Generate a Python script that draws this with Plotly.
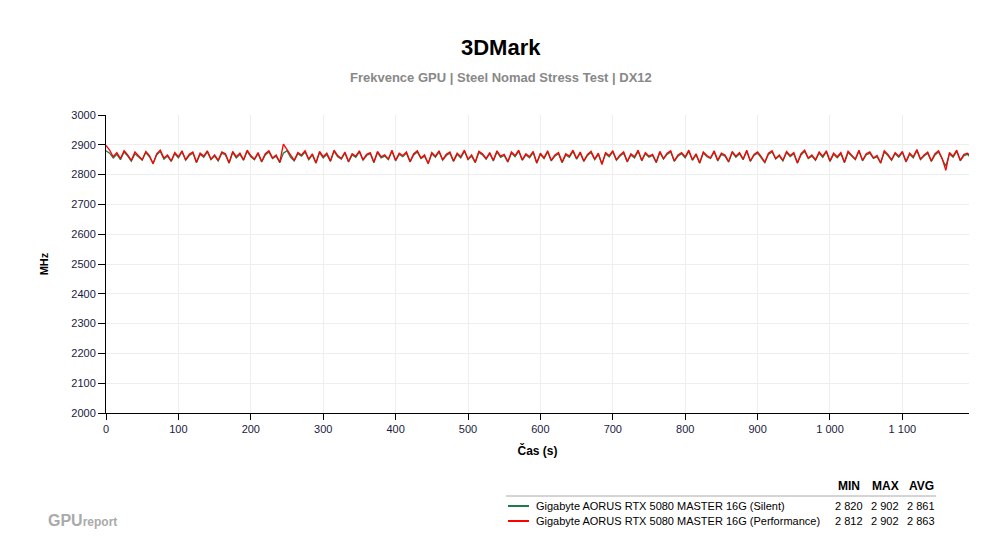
import plotly.graph_objects as go

step = 5
silent = [
2880,2872,2856,2868,2850,2876,2862,2845,2870,2858,2848,2874,2860,2838,2866,2878,2852,2862,2844,2870,
2856,2876,2848,2864,2872,2840,2868,2858,2876,2850,2862,2846,2872,2866,2838,2874,2856,2868,2848,2878,
2860,2850,2870,2842,2866,2876,2854,2862,2840,2872,2880,2858,2846,2870,2862,2876,2850,2866,2838,2874,
2856,2868,2844,2878,2860,2852,2872,2842,2866,2858,2876,2848,2864,2870,2840,2874,2856,2862,2850,2878,
2846,2868,2860,2872,2842,2866,2876,2854,2862,2838,2870,2858,2876,2848,2864,2872,2844,2868,2856,2878,
2850,2862,2840,2874,2866,2852,2870,2846,2876,2858,2864,2842,2872,2860,2878,2848,2866,2856,2874,2838,
2868,2854,2876,2846,2862,2870,2840,2866,2858,2878,2852,2872,2844,2864,2874,2850,2868,2836,2870,2860,
2876,2848,2862,2872,2842,2866,2856,2878,2846,2870,2858,2864,2840,2874,2852,2868,2876,2844,2862,2870,
2856,2878,2848,2866,2838,2872,2860,2854,2876,2846,2868,2862,2842,2874,2858,2870,2850,2878,2844,2864,
2872,2856,2840,2868,2876,2852,2862,2846,2874,2860,2870,2838,2866,2878,2854,2862,2848,2872,2858,2876,
2844,2868,2856,2870,2840,2874,2862,2850,2878,2846,2866,2872,2854,2860,2838,2876,2864,2848,2870,2858,
2874,2842,2868,2856,2880,2850,2862,2872,2844,2866,2876,2852,2828,2870,2858,2878,2846,2864,2868,2856,
]
perf = [
2898,2882,2860,2874,2854,2880,2866,2848,2876,2862,2850,2878,2864,2836,2870,2882,2856,2866,2846,2874,
2860,2880,2850,2868,2876,2842,2872,2862,2880,2852,2866,2848,2876,2870,2840,2878,2860,2872,2850,2882,
2864,2852,2874,2844,2870,2880,2856,2866,2842,2902,2884,2862,2848,2874,2866,2880,2852,2870,2840,2878,
2860,2872,2846,2882,2864,2854,2876,2844,2870,2862,2880,2850,2868,2874,2842,2878,2860,2866,2852,2882,
2848,2872,2864,2876,2844,2870,2880,2856,2866,2836,2874,2862,2880,2850,2868,2876,2846,2872,2860,2882,
2852,2866,2842,2878,2870,2854,2874,2848,2880,2862,2868,2844,2876,2864,2882,2850,2870,2860,2878,2840,
2872,2856,2880,2848,2866,2874,2842,2870,2862,2882,2854,2876,2846,2868,2878,2852,2872,2834,2874,2864,
2880,2850,2866,2876,2844,2870,2860,2882,2848,2874,2862,2868,2842,2878,2854,2872,2880,2846,2866,2874,
2860,2882,2850,2870,2840,2876,2864,2856,2880,2848,2872,2866,2844,2878,2862,2874,2852,2882,2846,2868,
2876,2860,2842,2872,2880,2854,2866,2848,2878,2864,2874,2840,2870,2882,2856,2866,2850,2876,2862,2880,
2846,2872,2860,2874,2842,2878,2866,2852,2882,2848,2870,2876,2856,2864,2840,2880,2868,2850,2874,2862,
2878,2844,2872,2860,2884,2852,2866,2876,2846,2870,2880,2854,2814,2874,2862,2882,2848,2868,2872,2860,
]
t = [i * step for i in range(len(silent))]

x_ticks = [0, 100, 200, 300, 400, 500, 600, 700, 800, 900, 1000, 1100]
x_labels = ["0", "100", "200", "300", "400", "500", "600", "700", "800", "900", "1 000", "1 100"]
names = ["Gigabyte AORUS RTX 5080 MASTER 16G (Silent)", "Gigabyte AORUS RTX 5080 MASTER 16G (Performance)"]
colors = ["#1f7a4a", "#ff0000"]
stats = [["2 820", "2 902", "2 861"], ["2 812", "2 902", "2 863"]]

fig = go.Figure()
fig.add_trace(go.Scatter(x=t, y=silent, mode="lines", line=dict(color=colors[0], width=1.3), showlegend=False))
fig.add_trace(go.Scatter(x=t, y=perf, mode="lines", line=dict(color=colors[1], width=1.3), showlegend=False))

fig.update_layout(
    width=1000, height=550, paper_bgcolor="white", plot_bgcolor="white",
    margin=dict(l=98, r=39, t=107, b=145),
    font=dict(family="Liberation Sans, Arial", color="#000"),
    xaxis=dict(range=[0, 1192], tickvals=x_ticks, ticktext=x_labels, showgrid=True, gridcolor="#eeeeee",
               showline=True, linecolor="#000", ticks="outside", ticklen=6, tickcolor="#000",
               tickfont=dict(size=11, color="#1a1a40"), title=dict(text="<b>Čas (s)</b>", font=dict(size=12), standoff=12), zeroline=False),
    yaxis=dict(range=[2000, 3000], dtick=100, showgrid=True, gridcolor="#eeeeee",
               showline=True, linecolor="#000", ticks="outside", ticklen=7, tickcolor="#000",
               tickfont=dict(size=11, color="#1a1a40"), title=dict(text="<b>MHz</b>", font=dict(size=11), standoff=20), zeroline=False),
)

def py(px):
    return (412 - px) / 298.0
def px_(x):
    return (x - 105) / 863.0

def ann(text, x, y, size, xanchor="center", color="#000"):
    fig.add_annotation(text=text, x=px_(x), y=py(y), xref="paper", yref="paper", showarrow=False,
                       xanchor=xanchor, yanchor="middle", font=dict(size=size, color=color))

ann("<b>3DMark</b>", 500, 47, 22)
ann("<b>Frekvence GPU | Steel Nomad Stress Test | DX12</b>", 500, 76, 13, color="#888888")

for j, h in enumerate(["MIN", "MAX", "AVG"]):
    ann(f"<b>{h}</b>", [848, 884, 920][j], 485, 12)
fig.add_shape(type="line", x0=px_(505), x1=px_(935), y0=py(495), y1=py(495), xref="paper", yref="paper",
              line=dict(color="#aaaaaa", width=1))
for i in range(2):
    yy = 505 + 15 * i
    fig.add_shape(type="line", x0=px_(507), x1=px_(528), y0=py(yy), y1=py(yy), xref="paper", yref="paper",
                  line=dict(color=colors[i], width=2))
    ann(names[i], 533, yy, 11, xanchor="left")
    for j in range(3):
        ann(stats[i][j], [848, 884, 920][j], yy, 11)
ann("<b>GPU</b><span style='font-size:12px'><b>report</b></span>", 45, 519, 16, xanchor="left", color="#aaaaaa")

fig.write_html("out.html")
